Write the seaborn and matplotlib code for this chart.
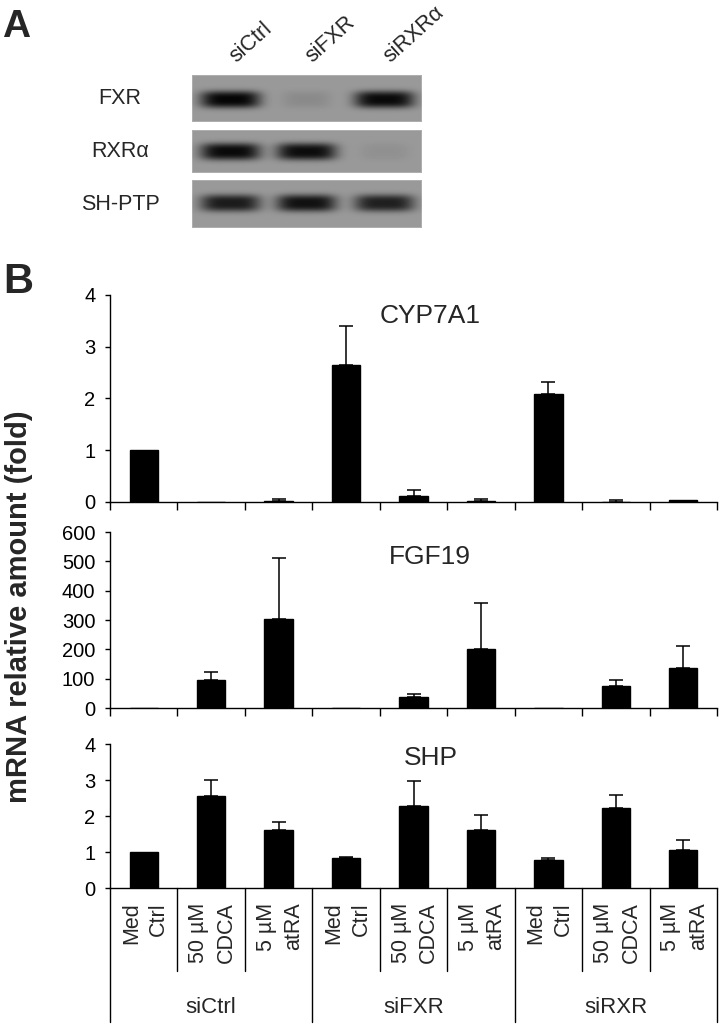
import numpy as np
import pandas as pd
import matplotlib
matplotlib.use("Agg")
import matplotlib.pyplot as plt
import matplotlib.transforms as mtransforms
import seaborn as sns

sns.set_theme(style="ticks")
plt.rcParams["font.family"] = ["Liberation Sans", "DejaVu Sans"]

# ---- panel A: western blot (relative band strength per lane)
lanes = ["siCtrl", "siFXR", "siRXRα"]
blot_rows = ["FXR", "RXRα", "SH-PTP"]
fxr_band = [1.0, 0.10, 0.97]
rxra_band = [0.97, 0.95, 0.06]
shptp_band = [0.85, 0.92, 0.82]

# ---- panel B: qPCR, mRNA relative amount (fold)
groups = ["siCtrl", "siFXR", "siRXR"]
treatments = ["Med\nCtrl", "50 µM\nCDCA", "5 µM\natRA"]
cyp7a1 = [1.0, 0.0, 0.01, 2.65, 0.11, 0.01, 2.08, 0.0, 0.03]
cyp7a1_err = [0.0, 0.0, 0.04, 0.75, 0.12, 0.04, 0.23, 0.04, 0.0]
fgf19 = [1, 97, 305, 1, 38, 200, 1, 76, 137]
fgf19_err = [0, 25, 208, 0, 10, 157, 0, 18, 75]
shp = [1.0, 2.55, 1.62, 0.83, 2.28, 1.60, 0.77, 2.22, 1.06]
shp_err = [0.0, 0.45, 0.20, 0.02, 0.70, 0.42, 0.06, 0.37, 0.28]

W, H = 722, 1026
fig = plt.figure(figsize=(W / 100, H / 100), dpi=100)


def px_axes(left, top, right, bottom):
    return fig.add_axes([left / W, 1 - bottom / H, (right - left) / W, (bottom - top) / H])


# ---------------- panel A
fig.text(2 / W, 1 - 37 / H, "A", fontsize=28, fontweight="bold", ha="left", va="baseline")

lane_x = [38, 114, 192]
row_boxes = [(75, 122), (130, 173), (180, 228)]
band_cy = [0.51, 0.49, 0.47]
bg = 0.6
for r, (name, bands) in enumerate(zip(blot_rows, [fxr_band, rxra_band, shptp_band])):
    top, bot = row_boxes[r]
    h = bot - top
    yy, xx = np.mgrid[0:h, 0:230]
    img = np.full((h, 230), bg)
    # slightly lighter frame like a scanned strip
    img[[0, -1], :] = 0.68
    img[:, [0, -1]] = 0.68
    for cx, strength in zip(lane_x, bands):
        hw = 30 if strength > 0.5 else 24
        shape = np.exp(-(np.abs(xx - cx) / hw) ** 4) * np.exp(-(np.abs(yy - band_cy[r] * h) / 8.5) ** 3)
        img -= (bg - 0.02) * strength * shape
    ax = px_axes(192, top, 422, bot)
    ax.imshow(np.clip(img, 0, 1), cmap="gray", vmin=0, vmax=1, aspect="auto", interpolation="bilinear")
    ax.axis("off")
    fig.text(120 / W, 1 - (top + bot) / 2 / H, name, fontsize=15.5, ha="center", va="center")

for lx, lab in zip(lane_x, lanes):
    fig.text((192 + lx + 6) / W, 1 - 63 / H, lab, fontsize=15.5, rotation=42,
             rotation_mode="anchor", ha="left", va="baseline")

# ---------------- panel B
fig.text(3 / W, 1 - 293 / H, "B", fontsize=30, fontweight="bold", ha="left", va="baseline")
fig.text(19 / W, 1 - 607 / H, "mRNA relative amount (fold)", fontsize=21, fontweight="bold",
         rotation=90, ha="center", va="center")

cond = [f"{g} {t}" for g in groups for t in treatments]
df = pd.DataFrame({"cond": cond, "cyp": cyp7a1, "fgf": fgf19, "shp": shp})

panels = [
    ("cyp", cyp7a1_err, "CYP7A1", (295, 502), 4, [0, 1, 2, 3, 4], 0.90),
    ("fgf", fgf19_err, "FGF19", (532, 708), 600, [0, 100, 200, 300, 400, 500, 600], 0.86),
    ("shp", shp_err, "SHP", (744, 888), 4, [0, 1, 2, 3, 4], 0.90),
]

for i, (col, err, title, (top, bot), ymax, yt, ty) in enumerate(panels):
    ax = px_axes(110, top, 717, bot)
    sns.barplot(data=df, x="cond", y=col, color="black", saturation=1, width=0.42,
                errorbar=None, edgecolor="black", ax=ax)
    pos = [k for k, e in enumerate(err) if e > 0]
    ax.errorbar(pos, [df[col][k] for k in pos], yerr=[[0] * len(pos), [err[k] for k in pos]],
                fmt="none", ecolor="black", elinewidth=1.1, capsize=5, capthick=1.1)
    ax.set_xlim(-0.5, 8.5)
    ax.set_ylim(0, ymax)
    ax.set_yticks(yt)
    ax.set_xlabel("")
    ax.set_ylabel("")
    for s in ["top", "right"]:
        ax.spines[s].set_visible(False)
    for s in ["left", "bottom"]:
        ax.spines[s].set_linewidth(1.0)
        ax.spines[s].set_color("black")
    ax.tick_params(axis="y", length=3.6, width=1.0, labelsize=14.5, pad=7, colors="black")
    trans = mtransforms.blended_transform_factory(ax.transData, ax.transAxes)
    ax.text(4.25, ty, title, transform=trans, ha="center", va="center", fontsize=19)
    if i < 2:
        ax.set_xticks(np.arange(-0.5, 9, 1))
        ax.set_xticklabels([])
        ax.tick_params(axis="x", length=6, width=1.0, direction="out", colors="black")
    else:
        ax.set_xticks([])
        for b in range(10):
            ybot = -0.93 if b % 3 == 0 else -0.576
            ax.plot([b - 0.5, b - 0.5], [0, ybot], transform=trans, color="black",
                    lw=1.0, clip_on=False)
        for k, lab in enumerate(treatments * 3):
            ax.text(k + 0.02, -0.1, lab, transform=trans, rotation=90, ha="center", va="top",
                    multialignment="right", linespacing=1.4, fontsize=15.5)
        for g, lab in enumerate(groups):
            ax.text(1 + 3 * g, -0.833, lab, transform=trans, ha="center", va="center", fontsize=16)

fig.savefig("out.png", dpi=100)
